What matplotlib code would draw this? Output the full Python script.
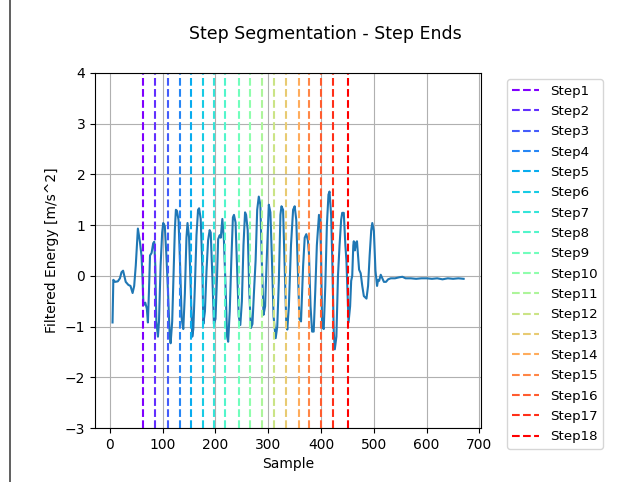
import matplotlib.pyplot as plt
import numpy as np
from matplotlib.lines import Line2D

# filtered energy signal
samples = [5, 6.5, 10, 15, 19, 22, 25, 30, 35, 39, 43, 46, 49, 53, 57, 60, 62, 63.5, 67, 70,
           72, 74, 76, 79, 82, 84, 86, 88, 91, 93, 96, 99, 101, 104, 107, 110, 113, 115, 118, 121,
           123, 125, 127, 130, 133, 136, 139, 142, 145, 147, 150, 153, 156, 158, 161, 164, 167, 169, 172, 175,
           177, 180, 183, 186, 189, 191, 194, 197, 200, 203, 205, 208, 210, 213, 216, 219, 222, 224, 227, 230,
           233, 235, 238, 241, 244, 247, 250, 253, 256, 258, 261, 264, 267, 270, 273, 276, 279, 282, 285, 288,
           291, 294, 297, 301, 304, 307, 310, 314, 317, 320, 323, 325, 328, 331, 334, 336, 339, 343, 347, 350,
           353, 356, 359, 362, 366, 369, 372, 375, 377, 380, 383, 386, 389, 392, 396, 398, 400, 402, 405, 408,
           411, 414, 416, 419, 421, 424, 426, 429, 432, 435, 438, 440, 443, 446, 448, 450, 452, 455, 457, 459,
           461, 462, 464, 466, 468, 470, 472, 475, 478, 481, 486, 489, 492, 495, 497, 500, 503, 506, 508, 510,
           513, 516, 519, 523, 527, 532, 540, 548, 554, 560, 570, 580, 590, 600, 610, 620, 630, 640, 650, 660,
           670]
energy = [-0.92, -0.08, -0.12, -0.11, -0.05, 0.07, 0.1, -0.12, -0.18, -0.2, -0.34, -0.2, 0.2, 0.93, 0.66, 0.38, -0.1, -0.58, -0.53, -0.65,
          -0.92, -0.3, 0.4, 0.45, 0.64, 0.67, 0.2, -0.9, -1.2, -0.9, 0.2, 0.85, 1.04, 0.98, 0.4, -0.3, -1.1, -1.33, -0.9, 0.2,
          0.9, 1.3, 1.28, 1.1, 0.2, -0.85, -1.05, -0.35, 0.75, 1.04, 0.75, -0.2, -1.2, -1.05, -0.2, 0.8, 1.3, 1.33, 1.12, 0.2,
          -0.95, -0.7, 0.1, 0.7, 0.9, 0.85, 0.0, -0.95, -0.85, 0.0, 0.72, 0.8, 0.75, 1.12, 0.7, -0.2, -1.2, -1.3, -0.7, 0.3,
          1.15, 1.2, 1.05, 0.1, -0.8, -0.97, -0.5, 0.6, 1.25, 1.2, 0.9, -0.3, -1.03, -0.95, -0.3, 0.3, 1.3, 1.56, 1.4, 0.2,
          -0.77, -0.6, 0.3, 1.4, 1.25, 0.3, -0.8, -1.23, -1.0, -0.1, 1.2, 1.37, 1.3, 0.2, -0.9, -1.06, -0.6, 0.6, 1.3, 1.37,
          1.1, 0.1, -0.85, -0.9, 0.2, 0.75, 0.82, 0.7, 0.45, -0.6, -1.1, -1.1, -0.3, 0.6, 1.2, 1.1, 0.4, -1.0, -1.05, -0.2,
          1.0, 1.6, 1.66, 1.2, 0.4, -1.1, -1.45, -1.2, 0.0, 0.6, 1.1, 1.24, 1.24, 0.6, 0.3, -0.3, -0.92, -0.6, -0.1, 0.0,
          0.6, 0.68, 0.5, 0.65, 0.68, 0.4, 0.12, 0.05, -0.2, -0.4, -0.45, -0.2, 0.4, 0.9, 1.04, 0.88, 0.1, -0.2, -0.08, -0.1,
          0.02, -0.05, -0.12, -0.12, -0.07, -0.05, -0.05, -0.03, -0.02, -0.05, -0.05, -0.06, -0.05, -0.05, -0.06, -0.05, -0.07, -0.05, -0.06, -0.05,
          -0.06]

# detected step end positions
step_ends = [62, 86, 110, 132, 154, 176, 198, 218, 244, 266, 289, 311, 334, 359, 377, 400, 423, 451]
step_labels = [f"Step{i + 1}" for i in range(len(step_ends))]

fig = plt.figure(figsize=(6.29, 4.82), dpi=100)
ax = fig.add_axes([0.151, 0.112, 0.614, 0.737])

ax.plot(samples, energy, color="tab:blue", linewidth=1.5)

colors = plt.cm.rainbow(np.linspace(0, 1, len(step_ends)))
for pos, col, lab in zip(step_ends, colors, step_labels):
    ax.axvline(pos, color=col, linestyle="--", linewidth=1.5, label=lab)

ax.set_ylim(-3, 4)
ax.set_xlabel("Sample")
ax.set_ylabel("Filtered Energy [m/s^2]")
ax.grid(True)
ax.legend(bbox_to_anchor=(1.05, 1), loc="upper left", fontsize=9.6, labelspacing=0.55)

fig.text(0.517, 0.929, "Step Segmentation - Step Ends", ha="center", va="center", fontsize=12.5)

# screenshot edge on the left
fig.add_artist(Line2D([9.5 / 629, 9.5 / 629], [0, 1], color="#444444", linewidth=1.2,
                      transform=fig.transFigure))

fig.savefig("out.png", dpi=100)
